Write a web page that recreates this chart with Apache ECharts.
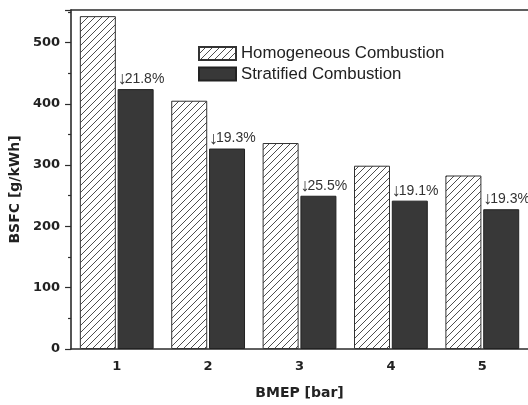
<!DOCTYPE html>
<html>
<head>
<meta charset="utf-8">
<script src="https://cdn.jsdelivr.net/npm/echarts@6/dist/echarts.min.js"></script>
<style>
  html, body { margin: 0; padding: 0; background: #fff; }
  #chart { width: 528px; height: 405px; }
</style>
</head>
<body>
<div id="chart"></div>
<script>
// BMEP load points (bar)
const categories = ['1', '2', '3', '4', '5'];
// Brake specific fuel consumption, g/kWh
const homogeneous = [543, 405, 336, 299, 283];
const stratified = [424, 327, 250, 242, 228];
// Reduction of stratified relative to homogeneous, %
const reduction = [21.8, 19.3, 25.5, 19.1, 19.3];

const ink = '#2b2b2b';

// Diagonal hatch tile for the homogeneous bars
function hatchTile(size) {
  const c = document.createElement('canvas');
  c.width = size; c.height = size;
  const g = c.getContext('2d');
  g.fillStyle = '#ffffff';
  g.fillRect(0, 0, size, size);
  g.strokeStyle = '#3a3a3a';
  g.lineWidth = 0.9;
  g.beginPath();
  g.moveTo(-1, size + 1); g.lineTo(size + 1, -1);
  g.moveTo(-1, 1); g.lineTo(1, -1);
  g.moveTo(size - 1, size + 1); g.lineTo(size + 1, size - 1);
  g.stroke();
  return c;
}
const hatch = { image: hatchTile(7), repeat: 'repeat' };

const tickFont = { fontFamily: 'DejaVu Sans', fontWeight: 'bold', fontSize: 13, color: '#222' };
const titleFont = { fontFamily: 'DejaVu Sans', fontWeight: 'bold', fontSize: 14, color: '#222' };

const chart = echarts.init(document.getElementById('chart'));
chart.setOption({
  animation: false,
  backgroundColor: '#ffffff',
  grid: { left: 69, top: 10, width: 461, bottom: 56 },
  legend: {
    orient: 'vertical',
    left: 193, top: 40,
    icon: 'rect',
    itemWidth: 37, itemHeight: 13, itemGap: 3.5,
    textStyle: { fontFamily: 'Liberation Sans', fontSize: 16.8, color: '#222' },
    data: ['Homogeneous Combustion', 'Stratified Combustion']
  },
  xAxis: [{
    type: 'category',
    data: categories,
    name: 'BMEP [bar]',
    nameLocation: 'middle',
    nameGap: 37,
    nameTextStyle: titleFont,
    axisLine: { lineStyle: { color: ink, width: 1.6 } },
    axisTick: { alignWithLabel: true, length: 5, lineStyle: { color: ink, width: 1.2 } },
    axisLabel: Object.assign({ margin: 11 }, tickFont)
  }, {
    // boundary ticks between the load points
    type: 'category',
    data: categories,
    position: 'bottom',
    axisLine: { show: false },
    axisTick: { length: 3, lineStyle: { color: ink, width: 1.2 } },
    axisLabel: { show: false }
  }, {
    // top frame line
    type: 'category',
    data: categories,
    position: 'top',
    axisLine: { show: true, lineStyle: { color: ink, width: 1.6 } },
    axisTick: { show: false },
    axisLabel: { show: false }
  }],
  yAxis: {
    type: 'value',
    min: 0, max: 553, interval: 100,
    name: 'BSFC [g/kWh]',
    nameLocation: 'middle',
    nameGap: 47,
    nameTextStyle: Object.assign({ padding: [0, 20, 0, 0] }, titleFont),
    axisLine: { show: true, lineStyle: { color: ink, width: 1.6 } },
    axisTick: { show: true, length: 6, lineStyle: { color: ink, width: 1.2 } },
    minorTick: { show: true, splitNumber: 2, length: 3, lineStyle: { color: ink, width: 1.2 } },
    splitLine: { show: false },
    axisLabel: Object.assign({
      margin: 11,
      showMaxLabel: false,
      formatter: v => (v % 100 === 0 ? String(v) : '')
    }, tickFont)
  },
  series: [{
    name: 'Homogeneous Combustion',
    type: 'bar',
    data: homogeneous,
    barWidth: 36,
    barGap: '5%',
    itemStyle: { color: hatch, borderColor: '#333', borderWidth: 1 }
  }, {
    name: 'Stratified Combustion',
    type: 'bar',
    data: stratified,
    barWidth: 36,
    itemStyle: { color: '#383838', borderColor: '#222', borderWidth: 1 },
    label: {
      show: true,
      position: [0, -1],
      align: 'left',
      verticalAlign: 'bottom',
      fontFamily: 'Liberation Sans',
      fontSize: 14,
      color: '#333',
      formatter: p => '{a|\u2193}' + reduction[p.dataIndex].toFixed(1) + '%',
      rich: {
        a: { fontFamily: 'Liberation Sans', fontSize: 18, color: '#333', width: 6, padding: [0, 1, 0, 0] }
      }
    }
  }]
});
</script>
</body>
</html>
